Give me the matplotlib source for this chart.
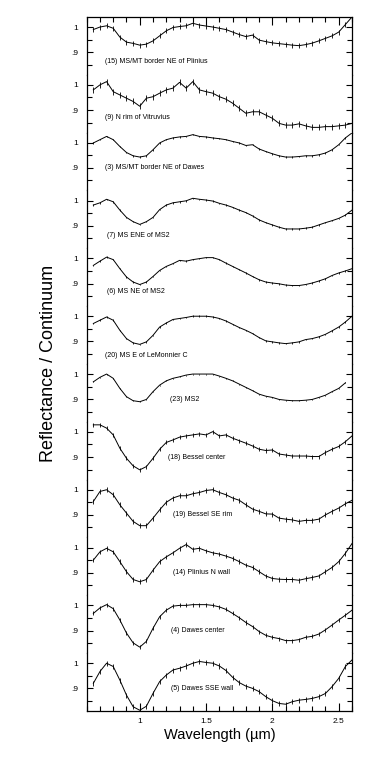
import numpy as np
import matplotlib
matplotlib.use("Agg")
import matplotlib.pyplot as plt
from matplotlib.ticker import MultipleLocator, FixedLocator

plt.rcParams['font.family'] = ['Liberation Sans', 'DejaVu Sans']

# wavelength grid (um)
wl = [0.65, 0.70, 0.75, 0.80, 0.85, 0.90, 0.95, 1.00, 1.05, 1.10,
      1.15, 1.20, 1.25, 1.30, 1.35, 1.40, 1.45, 1.50, 1.55, 1.60,
      1.65, 1.70, 1.75, 1.80, 1.85, 1.90, 1.95, 2.00, 2.05, 2.10,
      2.15, 2.20, 2.25, 2.30, 2.35, 2.40, 2.45, 2.50, 2.55, 2.60]

labels = ["(15) MS/MT border NE of Plinius", "(9) N rim of Vitruvius",
          "(3) MS/MT border NE of Dawes", "(7) MS ENE of MS2",
          "(6) MS NE of MS2", "(20) MS E of LeMonnier C", "(23) MS2",
          "(18) Bessel center", "(19) Bessel SE rim", "(14) Plinius N wall",
          "(4) Dawes center", "(5) Dawes SSE wall"]

s15 = [0.990, 1.000, 1.005, 0.995, 0.960, 0.940, 0.935, 0.928, 0.932, 0.945,
       0.965, 0.985, 0.998, 1.002, 1.005, 1.015, 1.008, 1.004, 1.000, 0.995,
       0.990, 0.980, 0.970, 0.962, 0.968, 0.948, 0.942, 0.937, 0.934, 0.931,
       0.928, 0.926, 0.930, 0.936, 0.945, 0.955, 0.965, 0.980, 1.010, 1.040]
s9 = [0.980, 1.000, 1.013, 0.973, 0.960, 0.947, 0.934, 0.915, 0.947, 0.953,
      0.967, 0.980, 0.987, 1.010, 0.987, 1.013, 0.980, 0.973, 0.967, 0.953,
      0.943, 0.927, 0.907, 0.887, 0.893, 0.893, 0.880, 0.867, 0.847, 0.840,
      0.840, 0.845, 0.837, 0.831, 0.831, 0.834, 0.834, 0.837, 0.840, 0.847]
s3 = [0.999, 1.012, 1.025, 1.012, 0.985, 0.961, 0.948, 0.943, 0.948, 0.972,
      0.999, 1.012, 1.019, 1.023, 1.025, 1.032, 1.025, 1.023, 1.019, 1.016,
      1.012, 1.005, 0.999, 0.989, 0.992, 0.975, 0.965, 0.956, 0.948, 0.943,
      0.943, 0.945, 0.948, 0.948, 0.952, 0.959, 0.972, 0.992, 1.019, 1.039]
s7 = [0.982, 0.991, 1.005, 0.995, 0.962, 0.933, 0.916, 0.905, 0.916, 0.933,
      0.964, 0.982, 0.991, 0.995, 0.999, 1.009, 1.005, 1.002, 0.998, 0.989,
      0.982, 0.973, 0.962, 0.952, 0.939, 0.923, 0.912, 0.903, 0.894, 0.887,
      0.887, 0.887, 0.890, 0.894, 0.903, 0.912, 0.920, 0.929, 0.942, 0.962]
s6 = [0.972, 0.989, 1.005, 0.995, 0.959, 0.926, 0.906, 0.896, 0.906, 0.928,
      0.952, 0.968, 0.979, 0.992, 0.989, 0.995, 0.999, 1.003, 1.003, 0.995,
      0.981, 0.968, 0.955, 0.942, 0.928, 0.915, 0.906, 0.902, 0.899, 0.894,
      0.892, 0.892, 0.896, 0.902, 0.910, 0.919, 0.932, 0.942, 0.950, 0.959]
s20 = [0.971, 0.984, 0.997, 0.984, 0.944, 0.911, 0.894, 0.888, 0.898, 0.924,
       0.957, 0.973, 0.987, 0.991, 0.995, 1.000, 1.000, 1.000, 0.997, 0.991,
       0.981, 0.968, 0.955, 0.944, 0.931, 0.915, 0.902, 0.898, 0.894, 0.891,
       0.894, 0.898, 0.907, 0.911, 0.918, 0.928, 0.942, 0.957, 0.977, 1.000]
s23 = [0.969, 0.987, 1.000, 0.983, 0.943, 0.910, 0.894, 0.890, 0.899, 0.930,
       0.956, 0.973, 0.983, 0.989, 0.996, 1.000, 1.000, 1.000, 1.000, 0.992,
       0.983, 0.973, 0.960, 0.947, 0.934, 0.920, 0.912, 0.907, 0.899, 0.896,
       0.894, 0.894, 0.896, 0.899, 0.907, 0.916, 0.930, 0.943, 0.965, np.nan]
s18 = [1.028, 1.028, 1.015, 0.988, 0.935, 0.895, 0.865, 0.849, 0.862, 0.895,
       0.931, 0.958, 0.968, 0.979, 0.984, 0.988, 0.992, 0.988, 1.001, 0.984,
       0.988, 0.975, 0.965, 0.955, 0.944, 0.931, 0.926, 0.928, 0.912, 0.908,
       0.904, 0.904, 0.904, 0.902, 0.902, 0.918, 0.931, 0.942, 0.961, 0.984]
s19 = [0.953, 0.993, 1.000, 0.980, 0.940, 0.907, 0.874, 0.857, 0.857, 0.887,
       0.920, 0.950, 0.967, 0.976, 0.976, 0.984, 0.989, 0.997, 1.000, 0.989,
       0.980, 0.967, 0.958, 0.940, 0.923, 0.914, 0.904, 0.903, 0.887, 0.883,
       0.880, 0.874, 0.878, 0.878, 0.883, 0.900, 0.914, 0.927, 0.944, 0.958]
s14 = [0.950, 0.983, 0.997, 0.983, 0.944, 0.904, 0.873, 0.864, 0.873, 0.910,
       0.944, 0.963, 0.979, 0.997, 1.012, 0.993, 0.997, 0.987, 0.979, 0.974,
       0.966, 0.957, 0.944, 0.930, 0.921, 0.904, 0.887, 0.877, 0.874, 0.873,
       0.873, 0.870, 0.876, 0.881, 0.887, 0.904, 0.921, 0.944, 0.977, 1.016]
s4 = [0.968, 0.990, 1.003, 0.987, 0.942, 0.890, 0.851, 0.834, 0.857, 0.909,
      0.955, 0.981, 0.997, 1.000, 1.000, 1.003, 1.003, 1.003, 1.000, 0.994,
      0.984, 0.968, 0.951, 0.932, 0.916, 0.896, 0.881, 0.873, 0.868, 0.860,
      0.860, 0.864, 0.873, 0.877, 0.886, 0.903, 0.922, 0.942, 0.961, 0.981]
s5 = [0.920, 0.967, 1.000, 0.987, 0.933, 0.873, 0.827, 0.813, 0.829, 0.880,
      0.927, 0.953, 0.973, 0.980, 0.989, 1.000, 1.007, 1.003, 1.000, 0.989,
      0.971, 0.944, 0.923, 0.909, 0.900, 0.887, 0.867, 0.851, 0.840, 0.837,
      0.847, 0.853, 0.856, 0.860, 0.867, 0.880, 0.907, 0.940, 0.987, 1.013]

spectra = [s15, s9, s3, s7, s6, s20, s23, s18, s19, s14, s4, s5]
errs = [0.010, 0.012, 0.003, 0.003, 0.003, 0.003, 0.002, 0.008, 0.010, 0.009, 0.008, 0.010]
label_x = [0.74, 0.74, 0.74, 0.755, 0.75, 0.74, 1.23, 1.21, 1.25, 1.25, 1.235, 1.235]
label_y = [0.864, 0.872, 0.90, 0.86, 0.868, 0.844, 0.90, 0.90, 0.90, 0.90, 0.90, 0.90]

fig, axes = plt.subplots(12, 1, figsize=(3.73, 7.58), dpi=100, sharex=True)
fig.subplots_adjust(left=0.2324, right=0.9437, top=0.9776, bottom=0.062, hspace=0)

n = len(axes)
for i, ax in enumerate(axes):
    ax.plot(wl, spectra[i], color="k", lw=0.7)
    ax.errorbar(wl, spectra[i], yerr=errs[i], fmt="none", ecolor="k", elinewidth=0.6)
    ax.set_xlim(0.6, 2.6)
    ax.set_ylim(0.81, 1.04)
    ax.yaxis.set_major_locator(FixedLocator([0.9, 1.0]))
    ax.set_yticklabels([".9", "1"])
    ax.yaxis.set_minor_locator(FixedLocator([0.85, 0.95]))
    ax.tick_params(axis="y", which="both", direction="in", left=True, right=True,
                   labelsize=6, pad=6, width=0.8)
    ax.tick_params(axis="y", which="major", length=4)
    ax.tick_params(axis="y", which="minor", length=3.5)
    for sp in ax.spines.values():
        sp.set_linewidth(0.9)
    ax.spines["top"].set_visible(i == 0)
    ax.spines["bottom"].set_visible(i == n - 1)
    ax.xaxis.set_major_locator(MultipleLocator(0.5))
    ax.xaxis.set_minor_locator(MultipleLocator(0.1))
    ax.tick_params(axis="x", which="both", direction="in", top=(i == 0),
                   bottom=(i == n - 1), labelbottom=(i == n - 1), labelsize=6,
                   pad=5, width=0.8)
    ax.tick_params(axis="x", which="major", length=5.5)
    ax.tick_params(axis="x", which="minor", length=3.5)
    ax.text(label_x[i], label_y[i], labels[i], fontsize=5, va="center")

axes[-1].set_xticks([1, 1.5, 2, 2.5])
axes[-1].set_xticklabels(["1", "1.5", "2", "2.5"])
axes[-1].set_xlabel("Wavelength (\u00b5m)", fontsize=10.5, labelpad=2)
fig.text(0.13, 0.52, "Reflectance / Continuum", rotation=90, fontsize=13,
         ha="center", va="center")

plt.savefig("out.png", dpi=100)
